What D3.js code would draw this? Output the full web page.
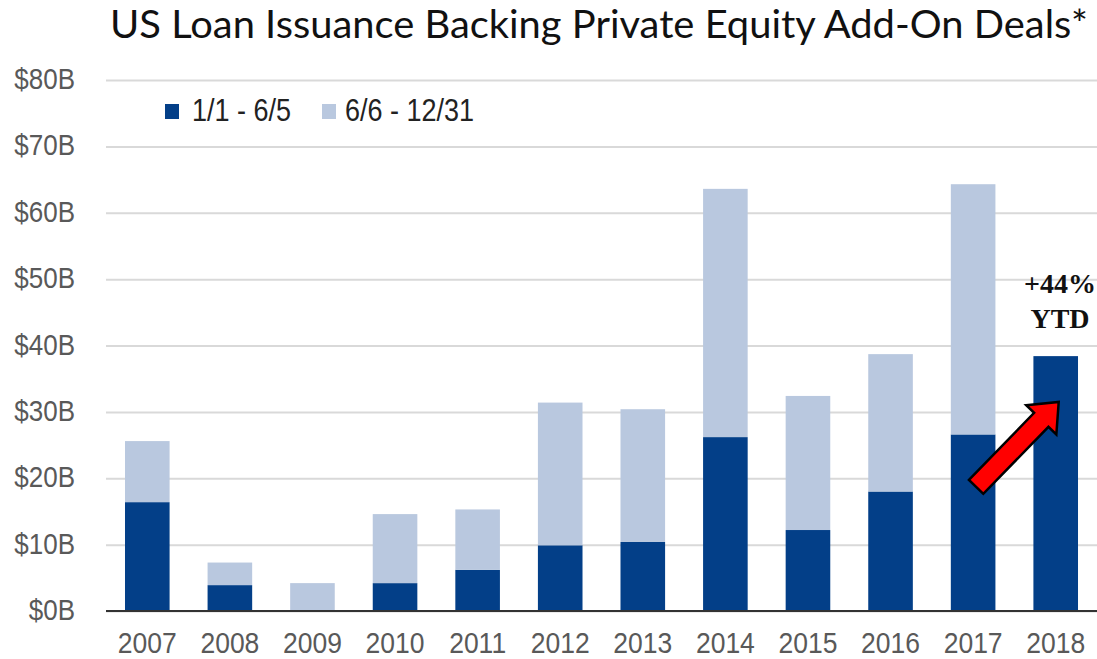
<!DOCTYPE html>
<html>
<head>
<meta charset="utf-8">
<script src="https://cdn.jsdelivr.net/npm/d3@7"></script>
<style>
  html, body { margin: 0; padding: 0; background: #ffffff; }
  svg { display: block; }
</style>
</head>
<body>
<div id="chart"></div>
<script>
// Loan issuance backing PE add-on deals, $B, split by part of year
const years = ["2007","2008","2009","2010","2011","2012","2013","2014","2015","2016","2017","2018"];
const firstPart = [16.4, 3.9, 0, 4.2, 6.2, 9.9, 10.4, 26.2, 12.2, 18.0, 26.6, 38.4];   // 1/1 - 6/5
const secondPart = [9.2, 3.4, 4.2, 10.4, 9.1, 21.5, 20.0, 37.4, 20.2, 20.7, 37.7, 0]; // 6/6 - 12/31
const seriesNames = ["1/1 - 6/5", "6/6 - 12/31"];
const yTicks = [0, 10, 20, 30, 40, 50, 60, 70, 80];
const titleText = "US Loan Issuance Backing Private Equity Add-On Deals*";
const noteLines = ["+44%", "YTD"];
// annotation arrow: from the 2017 bar up to the 2018 bar (values in $B)
const arrowFrom = { year: "2017", value: 18.7 };
const arrowTo = { year: "2018", value: 31.5 };

const W = 1097, H = 659;
const colors = ["#033f88", "#b9c8df"];

const svg = d3.select("#chart").append("svg")
  .attr("width", W).attr("height", H);

const x = d3.scaleBand().domain(years).range([106, 1097])
  .paddingInner(0.46).paddingOuter(0.23);
const y = d3.scaleLinear().domain([0, 80]).range([611, 80]);

// text helper: labels in this chart are slightly tall for their width
const stretch = 1.13;
function label(g, tx, ty, text) {
  return g.append("g").attr("transform", `translate(${tx},${ty}) scale(1,${stretch})`)
    .append("text").text(text);
}

// title
svg.append("text")
  .attr("x", 110).attr("y", 38)
  .attr("textLength", 978).attr("lengthAdjust", "spacingAndGlyphs")
  .style("font-family", "Lato, 'Open Sans', sans-serif")
  .style("font-size", "39px")
  .attr("fill", "#111")
  .text(titleText);

// gridlines
svg.append("g").attr("class", "grid")
  .call(d3.axisRight(y).tickValues(yTicks).tickSize(W - 106).tickFormat(""))
  .attr("transform", "translate(106,0)")
  .call(g => g.select(".domain").remove())
  .call(g => g.selectAll("line").attr("stroke", "#d9d9d9").attr("stroke-width", 2));

// y tick labels
const yLab = svg.append("g")
  .style("font-family", "'Liberation Sans', Arial, sans-serif")
  .style("font-size", "26px")
  .attr("fill", "#595959");
yTicks.forEach(v => {
  label(yLab, 75, y(v) + 9, `$${v}B`).attr("text-anchor", "end");
});

// stacked bars
const stackData = years.map((yr, i) => ({ year: yr, a: firstPart[i], b: secondPart[i] }));
const stacked = d3.stack().keys(["a", "b"])(stackData);
svg.append("g").selectAll("g").data(stacked).join("g")
  .attr("fill", (d, i) => colors[i])
  .selectAll("rect").data(d => d).join("rect")
  .attr("x", d => x(d.data.year))
  .attr("width", x.bandwidth())
  .attr("y", d => y(d[1]))
  .attr("height", d => y(d[0]) - y(d[1]));

// baseline
svg.append("line")
  .attr("x1", 106).attr("x2", W)
  .attr("y1", y(0)).attr("y2", y(0))
  .attr("stroke", "#333").attr("stroke-width", 2);

// x labels
const xLab = svg.append("g")
  .style("font-family", "'Liberation Sans', Arial, sans-serif")
  .style("font-size", "26.5px")
  .attr("fill", "#595959");
years.forEach(yr => {
  label(xLab, x(yr) + x.bandwidth() / 2, 653, yr).attr("text-anchor", "middle");
});

// legend
const leg = svg.append("g")
  .style("font-family", "'Liberation Sans', Arial, sans-serif")
  .style("font-size", "27px")
  .attr("fill", "#222");
const legX = [165, 322];
const legGap = [27, 23];
seriesNames.forEach((name, i) => {
  leg.append("rect").attr("x", legX[i]).attr("y", 104).attr("width", 14).attr("height", 15)
    .attr("fill", colors[i]);
  label(leg, legX[i] + legGap[i], 121, name);
});

// annotation text
const note = svg.append("g")
  .style("font-family", "'Liberation Serif', 'DejaVu Serif', serif")
  .style("font-size", "28px")
  .style("font-weight", "bold")
  .attr("fill", "#111")
  .attr("text-anchor", "middle");
noteLines.forEach((t, i) => {
  note.append("text").attr("x", 1060).attr("y", 293 + i * 35).text(t);
});

// arrow
const x0 = x(arrowFrom.year) + x.bandwidth() / 2 + 3, y0 = y(arrowFrom.value);
const x1 = x(arrowTo.year) + x.bandwidth() / 2 + 3, y1 = y(arrowTo.value);
const len = Math.hypot(x1 - x0, y1 - y0);
const ang = Math.atan2(y1 - y0, x1 - x0) * 180 / Math.PI;
const shaftHalf = 10, headHalf = 21, headLen = 25;
const arrowPts = [
  [0, -shaftHalf], [len - headLen, -shaftHalf], [len - headLen, -headHalf], [len, 0],
  [len - headLen, headHalf], [len - headLen, shaftHalf], [0, shaftHalf]
];
svg.append("g")
  .attr("transform", `translate(${x0},${y0}) rotate(${ang})`)
  .append("path")
  .attr("d", d3.line()(arrowPts) + "Z")
  .attr("fill", "#ff0000")
  .attr("stroke", "#000")
  .attr("stroke-width", 2.5)
  .attr("stroke-linejoin", "miter");
</script>
</body>
</html>
